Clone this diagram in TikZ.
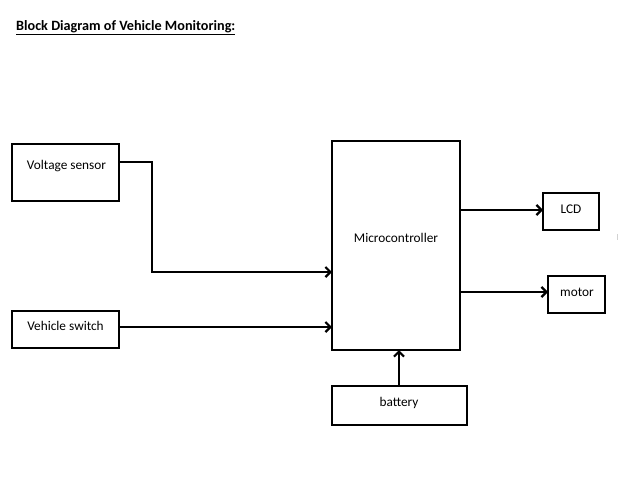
\documentclass[tikz,border=0pt]{standalone}
\usepackage{fontspec}
\setmainfont{Carlito}
\usetikzlibrary{arrows.meta}
\begin{document}
\begin{tikzpicture}[x=1pt,y=-1pt,
  box/.style={draw, line width=2pt, inner sep=0pt, outer sep=0pt},
  lab/.style={font=\fontsize{13.3}{15}\selectfont, inner sep=0pt, anchor=base},
  conn/.style={line width=2.6pt, -{Straight Barb[length=5pt,width=10pt,line width=2.2pt]}}]
\useasboundingbox[fill=white] (0,0) rectangle (618,477);
\node[anchor=base west, inner sep=0pt, font=\bfseries\fontsize{14.2}{16}\selectfont] (title) at (16,30) {\underline{Block Diagram of Vehicle Monitoring:}};
% boxes
\node[box, minimum width=107pt, minimum height=57pt] (vs) at (65.5,172.5) {};
\node[box, minimum width=107pt, minimum height=37pt] (vsw) at (65.5,329.5) {};
\node[box, minimum width=128pt, minimum height=209pt] (mc) at (396,245.5) {};
\node[box, minimum width=56pt, minimum height=37pt] (lcd) at (571,211.5) {};
\node[box, minimum width=57pt, minimum height=37pt] (motor) at (576.5,294.5) {};
\node[box, minimum width=135pt, minimum height=39pt] (bat) at (399.5,405.5) {};
% labels
\node[lab] (vst) at (66.5,169) {Voltage sensor};
\node[lab] (vswt) at (65.5,330) {Vehicle switch};
\node[lab] (mct) at (396,242) {Microcontroller};
\node[lab] (lcdt) at (571,213) {LCD};
\node[lab] (motort) at (577,296) {motor};
\node[lab] (batt) at (399,406) {battery};
% connectors
\coordinate (bend1) at (152,162);
\coordinate (bend2) at (152,272);
\coordinate (vswy) at (0,327);
\coordinate (lcdy) at (0,210);
\coordinate (motory) at (0,292);
\draw[conn] (vs.east |- bend1) -- (bend1) -- (bend2) -- (bend2 -| mc.west);
\draw[conn] (vsw.east |- vswy) -- (mc.west |- vswy);
\draw[conn] (mc.east |- lcdy) -- (lcd.west |- lcdy);
\draw[conn] (mc.east |- motory) -- (motor.west |- motory);
\draw[conn] (bat.north -| batt) -- (mc.south -| batt);
% stray mark
\draw[gray!35, line width=1pt] (617,234) -- (617,240);
\end{tikzpicture}
\end{document}
